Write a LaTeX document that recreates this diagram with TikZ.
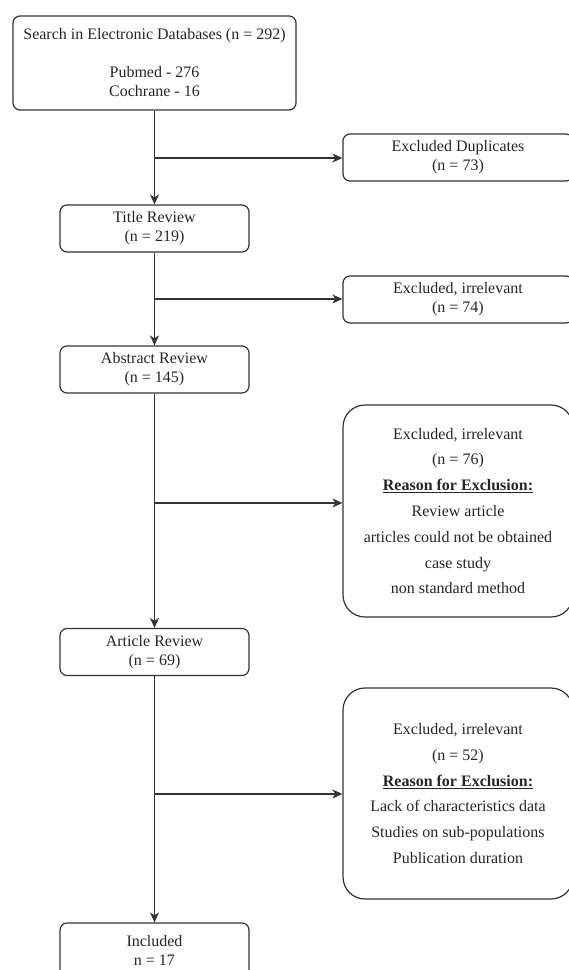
\documentclass[tikz,border=0pt]{standalone}
\usepackage{fontspec}
\setmainfont{Liberation Serif}
\usetikzlibrary{arrows.meta}
\definecolor{lncol}{HTML}{333333}
\definecolor{txcol}{HTML}{262626}
\begin{document}
\begin{tikzpicture}[x=1pt,y=-1pt,
  box/.style={draw=lncol, line width=1.2pt, rounded corners=7pt, inner sep=0pt,
    align=center, font=\fontsize{16}{19}\selectfont, text=txcol,
    minimum width=189pt, minimum height=47pt},
  rbox/.style={box, minimum width=230pt},
  bigbox/.style={rbox, rounded corners=22pt, font=\fontsize{16}{25.8}\selectfont},
  arr/.style={draw=lncol, line width=1.2pt, -{Stealth[length=10pt,width=9pt,inset=3pt]}}]
\useasboundingbox (0,0) rectangle (569,970);
\clip (0,0) rectangle (569,970);
% left column
\node[box, minimum width=283pt, minimum height=94pt] (top) at (154.5,63)
  {Search in Electronic Databases (n = 292)\\[19pt] Pubmed - 276\\ Cochrane - 16};
\node[box] (title) at (154.5,228.5) {Title Review\\ (n = 219)};
\node[box] (abstract) at (154.5,369.5) {Abstract Review\\ (n = 145)};
\node[box] (article) at (154.5,652) {Article Review\\ (n = 69)};
\node[box, minimum height=54pt] (included) at (154.5,950) {Included\\ n = 17};
% right column
\node[rbox] (exdup) at (458,157.5) {Excluded Duplicates\\ (n = 73)};
\node[rbox] (ex74) at (458,299.5) {Excluded, irrelevant\\ (n = 74)};
\node[bigbox, minimum height=212pt] (ex76) at (458,511)
  {Excluded, irrelevant\\ (n = 76)\\ \underline{\textbf{Reason for Exclusion:}}\\ Review article\\
   articles could not be obtained\\ case study\\ non standard method};
\node[bigbox, minimum height=211pt] (ex52) at (458,793.5)
  {Excluded, irrelevant\\ (n = 52)\\ \underline{\textbf{Reason for Exclusion:}}\\
   Lack of characteristics data\\ Studies on sub-populations\\ Publication duration};
% branch points
\coordinate (b1) at (154.5,158);
\coordinate (b2) at (154.5,299);
\coordinate (b3) at (154.5,503);
\coordinate (b4) at (154.5,794);
% main flow
\draw[arr] (top) -- (title);
\draw[arr] (title) -- (abstract);
\draw[arr] (abstract) -- (article);
\draw[arr] (article) -- (included);
% exclusions
\draw[arr] (b1) -- (b1 -| exdup.west);
\draw[arr] (b2) -- (b2 -| ex74.west);
\draw[arr] (b3) -- (b3 -| ex76.west);
\draw[arr] (b4) -- (b4 -| ex52.west);
\end{tikzpicture}
\end{document}
